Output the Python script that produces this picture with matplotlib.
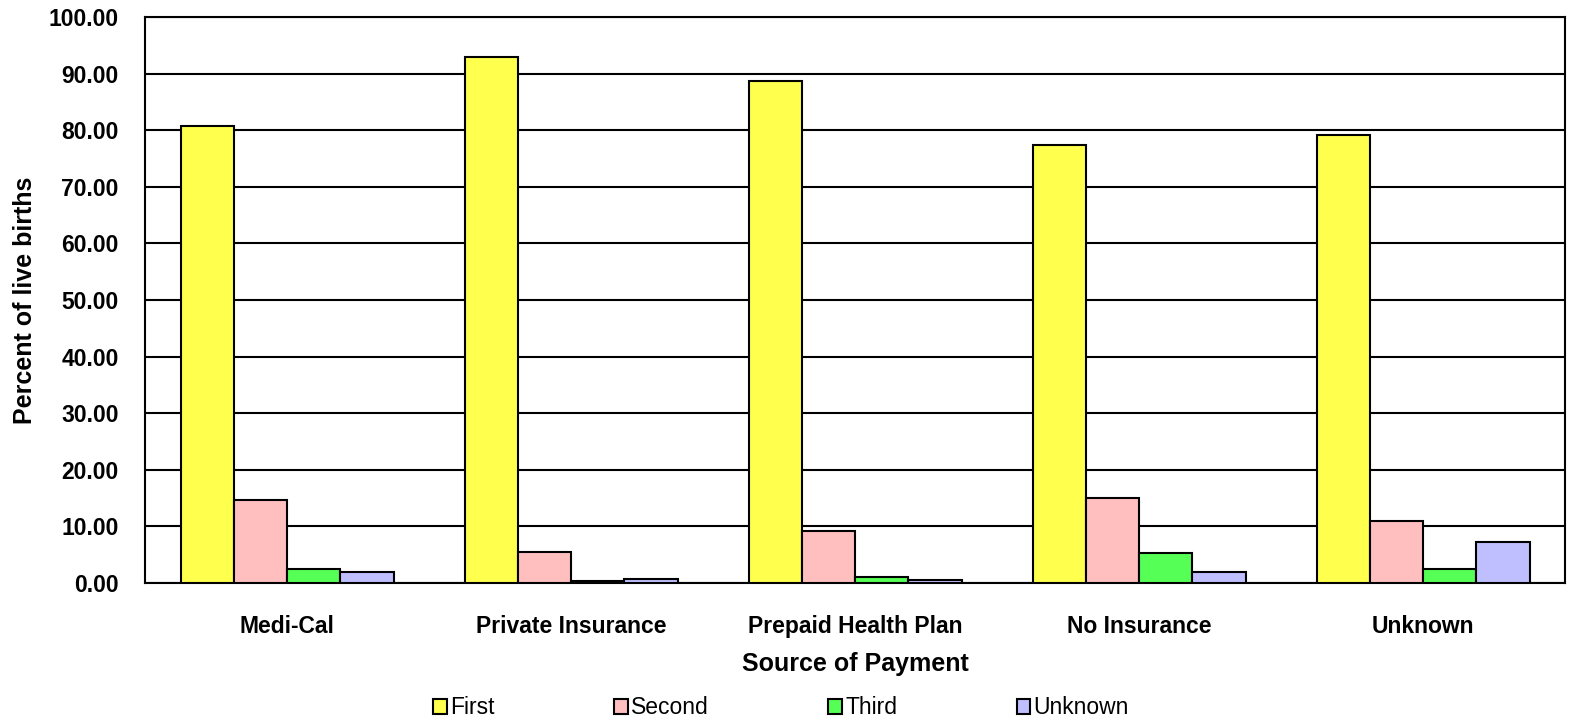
import matplotlib
matplotlib.use("Agg")
import matplotlib.pyplot as plt
import numpy as np

plt.rcParams['font.family'] = ['Liberation Sans', 'DejaVu Sans']

#----------Data----------#
categories = ["Medi-Cal", "Private Insurance", "Prepaid Health Plan", "No Insurance", "Unknown"]
series_names = ["First", "Second", "Third", "Unknown"]
first = [80.7, 93.0, 88.7, 77.4, 79.2]
second = [14.6, 5.5, 9.2, 15.0, 10.9]
third = [2.5, 0.4, 1.1, 5.3, 2.4]
unknown = [1.9, 0.7, 0.5, 2.0, 7.2]
colors = ["#FFFF4D", "#FFBFBF", "#55FF55", "#BFBFFF"]

#----------Plot----------#
fig = plt.figure(figsize=(15.91, 7.24), dpi=100)
ax = fig.add_axes([145/1591, (724-583)/724, (1565-145)/1591, (583-17)/724])

x = np.arange(len(categories))
w = 0.1875
for i, (name, vals) in enumerate(zip(series_names, [first, second, third, unknown])):
    ax.bar(x + (i - 1.5) * w, vals, width=w, color=colors[i], edgecolor="black",
           linewidth=1.5, label=name, zorder=3)

ax.set_xlim(-0.5, len(categories) - 0.5)
ax.set_ylim(0, 100)
ax.set_yticks(np.arange(0, 101, 10))
ax.set_yticklabels(["%.2f" % v for v in np.arange(0, 101, 10)], fontsize=16.5, fontweight="bold")
ax.set_xticks(x)
ax.set_xticklabels(categories, fontsize=16.5, fontweight="bold")
ax.tick_params(axis="x", length=0, pad=23)
ax.tick_params(axis="y", length=0, pad=19)
ax.yaxis.grid(True, color="black", linewidth=1.5, zorder=0)
for s in ax.spines.values():
    s.set_linewidth(1.5)

ax.set_xlabel("Source of Payment", fontsize=18, fontweight="bold", labelpad=10)
ax.set_ylabel("Percent of live births", fontsize=18, fontweight="bold", labelpad=8)

leg = ax.legend(loc="upper center", bbox_to_anchor=(0.448, -0.172), ncol=4, frameon=False,
                fontsize=16.5, handlelength=0.6, handleheight=0.6, handletextpad=0.15,
                columnspacing=5.2, borderpad=0.2)

fig.savefig("out.png", dpi=100)
